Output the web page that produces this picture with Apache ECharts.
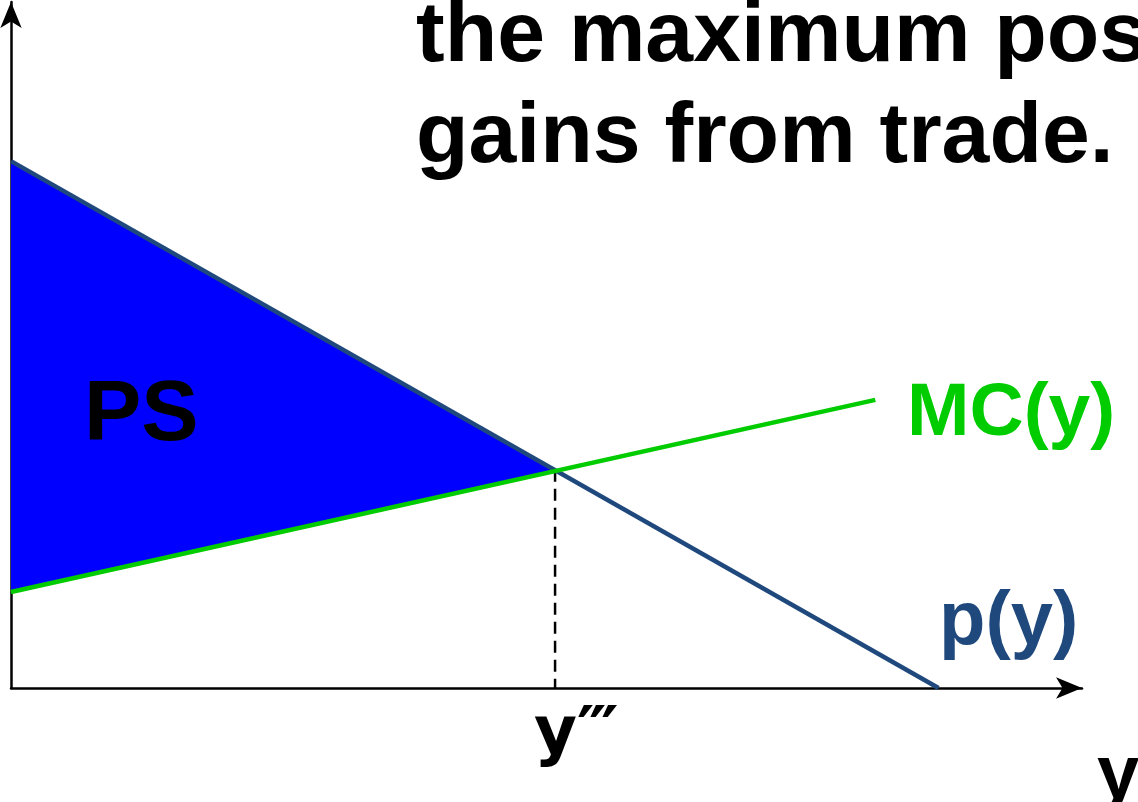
<!DOCTYPE html>
<html lang="en">
<head>
    <meta charset="UTF-8"/>
    <script src="https://cdn.jsdelivr.net/npm/echarts@6/dist/echarts.min.js"></script>
    <title>gains from trade</title>
    <style>
        html, body { margin: 0; padding: 0; background: #fff; }
        #main { width: 1138px; height: 802px; }
    </style>
</head>
<body>
<div id="main"></div>
<script type="text/javascript">
    // demand curve p(y) and marginal cost MC(y)
    var demandX = [0, 8.66];
    var demandP = [7.68, 0];
    var mcX = [0, 8.07];
    var mcP = [1.40, 4.20];
    // y''' where p(y) = MC(y)
    var yStar = 5.08;
    var pStar = 3.18;

    var toPairs = function (xs, ys) {
        return xs.map(function (x, i) { return [x, ys[i]]; });
    };
    // producer surplus triangle
    var psArea = [[demandX[0], demandP[0]], [yStar, pStar], [mcX[0], mcP[0]]];

    var myChart = echarts.init(document.getElementById('main'));

    var axisCommon = {
        type: 'value',
        min: 0,
        max: 10,
        axisLine: {
            show: true,
            symbol: ['none', 'arrow'],
            symbolSize: [16, 26],
            lineStyle: { color: '#000', width: 2.5 }
        },
        axisTick: { show: false },
        axisLabel: { show: false },
        splitLine: { show: false }
    };

    var option = {
        animation: false,
        grid: { left: 11, right: 56, top: 2, bottom: 114 },
        xAxis: axisCommon,
        yAxis: axisCommon,
        series: [
            {
                type: 'custom',
                data: psArea,
                z: 1,
                renderItem: function (params, api) {
                    if (params.dataIndex !== 0) return null;
                    return {
                        type: 'polygon',
                        shape: { points: psArea.map(function (p) { return api.coord(p); }) },
                        style: { fill: '#0000ff' }
                    };
                }
            },
            {
                type: 'line',
                data: [[yStar, pStar], [yStar, 0]],
                showSymbol: false,
                z: 2,
                lineStyle: { color: '#000', width: 2.5, type: [12, 7] }
            },
            {
                type: 'line',
                data: toPairs(demandX, demandP),
                showSymbol: false,
                z: 3,
                lineStyle: { color: '#1f497d', width: 4.5 }
            },
            {
                type: 'line',
                data: toPairs(mcX, mcP),
                showSymbol: false,
                z: 4,
                lineStyle: { color: '#00cc00', width: 4.5 }
            }
        ],
        graphic: [
            { type: 'text', style: { x: 416, y: 37, text: 'the maximum possible', font: 'bold 86px "Liberation Sans"', fill: '#000', verticalAlign: 'middle' } },
            { type: 'text', style: { x: 416, y: 138, text: 'gains from trade.', font: 'bold 86px "Liberation Sans"', fill: '#000', verticalAlign: 'middle' } },
            { type: 'text', z: 10, style: { x: 84, y: 416, text: 'PS', font: 'bold 86px "Liberation Sans"', fill: '#000', verticalAlign: 'middle' } },
            { type: 'text', style: { x: 907, y: 414, text: 'MC(y)', font: 'bold 75px "Liberation Sans"', fill: '#00cc00', verticalAlign: 'middle' } },
            { type: 'text', style: { x: 939, y: 623, text: 'p(y)', font: 'bold 76px "Liberation Sans"', fill: '#1f497d', verticalAlign: 'middle' } },
            { type: 'text', style: { x: 534, y: 736, text: 'y\u2034', font: 'bold 66px "DejaVu Sans"', fill: '#000', verticalAlign: 'middle' } },
            { type: 'text', style: { x: 1097, y: 777, text: 'y', font: 'bold 76px "Liberation Sans"', fill: '#000', verticalAlign: 'middle' } }
        ]
    };

    myChart.setOption(option);
</script>
</body>
</html>
